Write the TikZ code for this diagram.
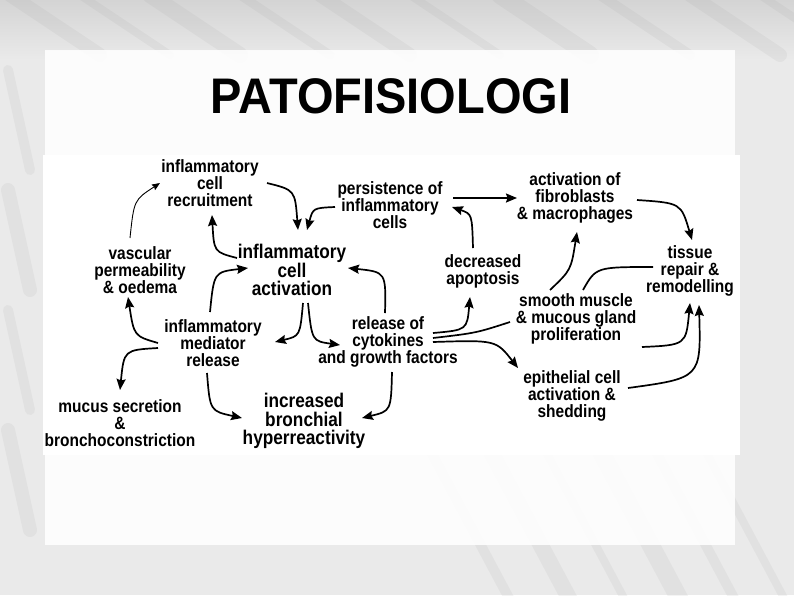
\documentclass[tikz,border=0pt]{standalone}
\usepackage{fontspec}
\setmainfont{Liberation Sans}
\newfontfamily\diagfont[FakeStretch=0.87]{Liberation Sans}
\newfontfamily\titlefont[FakeStretch=0.94]{Liberation Sans}
\usetikzlibrary{arrows.meta,calc}
\definecolor{bgcol}{RGB}{234,234,234}
\definecolor{topcol}{RGB}{212,212,212}
\definecolor{streak}{RGB}{150,150,150}
\begin{document}
\begin{tikzpicture}[x=1pt,y=-1pt,
  lbl/.style={font=\diagfont\fontsize{17.8}{17}\selectfont\bfseries, align=center, inner sep=0pt},
  big/.style={font=\diagfont\fontsize{19.8}{18.6}\selectfont\bfseries, align=center, inner sep=0pt},
  arr/.style={line width=1.7pt, -{Stealth[length=11pt,width=9pt,inset=1.5pt]}},
  thinarr/.style={line width=0.9pt, -{Stealth[length=8pt,width=6.5pt,inset=1pt]}},
  ln/.style={line width=1.7pt},
  streakline/.style={streak, line width=#1, opacity=0.10, line cap=round}]
\useasboundingbox (0,0) rectangle (794,595);
% background texture
\fill[bgcol] (0,0) rectangle (794,595);
\shade[top color=topcol, bottom color=bgcol] (0,0) rectangle (794,60);
\foreach \x/\w in {10/14,80/8,150/16,240/9,320/14,410/8,500/18,600/10,690/14,760/8}{
  \draw[streakline=\w] (\x,-5) -- (\x+90,55);
}
\foreach \x/\w in {430/10,490/16,545/8,600/18,655/10,705/8}{
  \draw[streakline=\w] (\x,450) -- (\x+80,600);
}
\foreach \y/\w in {70/10,190/14,310/10,430/14}{
  \draw[streakline=\w] (8,\y) -- (30,\y+100);
}
% panels
\fill[white, opacity=0.88] (45,50) rectangle (735,545);
\fill[white] (43,155) rectangle (740,455);
% title
\node[font=\titlefont\fontsize{50}{52}\selectfont\bfseries, inner sep=0pt] (title) at (391,96) {PATOFISIOLOGI};
% nodes
\node[lbl] (rec)  at (210,183) {inflammatory\\cell\\recruitment};
\node[lbl] (pers) at (390,205) {persistence of\\inflammatory\\cells};
\node[lbl] (fib)  at (575,198) {activation of\\fibroblasts\\\& macrophages};
\node[lbl] (vasc) at (140,270) {vascular\\permeability\\\& oedema};
\node[big] (act)  at (292,270) {inflammatory\\cell\\activation};
\node[lbl] (apo)  at (483,271) {decreased\\apoptosis};
\node[lbl] (tis)  at (690,271) {tissue\\repair \&\\remodelling};
\node[lbl] (med)  at (213,343) {inflammatory\\mediator\\release};
\node[lbl] (cyt)  at (388,342) {release of\\cytokines\\and growth factors};
\node[lbl] (smo)  at (576,319) {smooth muscle\\\& mucous gland\\proliferation};
\node[lbl] (muc)  at (120,423) {mucus secretion\\\&\\bronchoconstriction};
\node[big] (inc)  at (304,421) {increased\\bronchial\\hyperreactivity};
\node[lbl] (epi)  at (572,396) {epithelial cell\\activation \&\\shedding};
% connectors
\draw[thinarr] ($(vasc)+(-10,-32)$) .. controls (134,200) .. ($(rec)+(-50,0)$);
\draw[arr] ($(act)+(-55,-12)$) .. controls (214,252) .. ($(rec)+(2,32)$);
\draw[arr] ($(rec)+(57,0)$) .. controls (295,190) .. ($(act)+(6,-40)$);
\draw[arr] ($(pers)+(-55,2)$) .. controls (313,208) .. ($(act)+(15,-40)$);
\draw[arr] ($(pers)+(63,-7)$) -- ($(fib)+(-58,0)$);
\draw[arr] ($(apo)+(-10,-23)$) .. controls (472,214) .. ($(pers)+(62,2)$);
\draw[arr] ($(fib)+(62,2)$) .. controls (681,203) .. ($(tis)+(2,-31)$);
\draw[arr] ($(smo)+(-26,-29)$) .. controls (571,270) .. ($(fib)+(2,34)$);
\draw[ln]  ($(tis)+(-37,-4)$) .. controls (596,267) .. ($(smo)+(7,-29)$);
\draw[arr] ($(cyt)+(45,-9)$) .. controls (467,330) .. ($(apo)+(-13,26)$);
\draw[ln]  ($(cyt)+(45,-4)$) .. controls (476,333) .. ($(smo)+(-66,3)$);
\draw[arr] ($(cyt)+(45,0)$) .. controls (496,340) .. ($(epi)+(-54,-28)$);
\draw[arr] ($(smo)+(66,28)$) .. controls (686,345) .. ($(tis)+(0,32)$);
\draw[arr] ($(epi)+(56,-8)$) .. controls (701,378) .. ($(tis)+(9,34)$);
\draw[arr] ($(act)+(11,33)$) .. controls (300,336) .. ($(med)+(62,-1)$);
\draw[arr] ($(act)+(16,33)$) .. controls (312,341) .. ($(cyt)+(-48,3)$);
\draw[arr] ($(med)+(-3,-31)$) .. controls (214,272) .. ($(act)+(-44,-2)$);
\draw[arr] ($(cyt)+(-3,-29)$) .. controls (386,272) .. ($(act)+(56,-2)$);
\draw[arr] ($(med)+(-55,0)$) .. controls (134,336) .. ($(vasc)+(-12,27)$);
\draw[arr] ($(med)+(-55,5)$) .. controls (124,350) .. ($(muc)+(0,-33)$);
\draw[arr] ($(med)+(-6,30)$) .. controls (210,411) .. ($(inc)+(-62,-3)$);
\draw[arr] ($(cyt)+(4,30)$) .. controls (391,411) .. ($(inc)+(58,-3)$);
\end{tikzpicture}
\end{document}
